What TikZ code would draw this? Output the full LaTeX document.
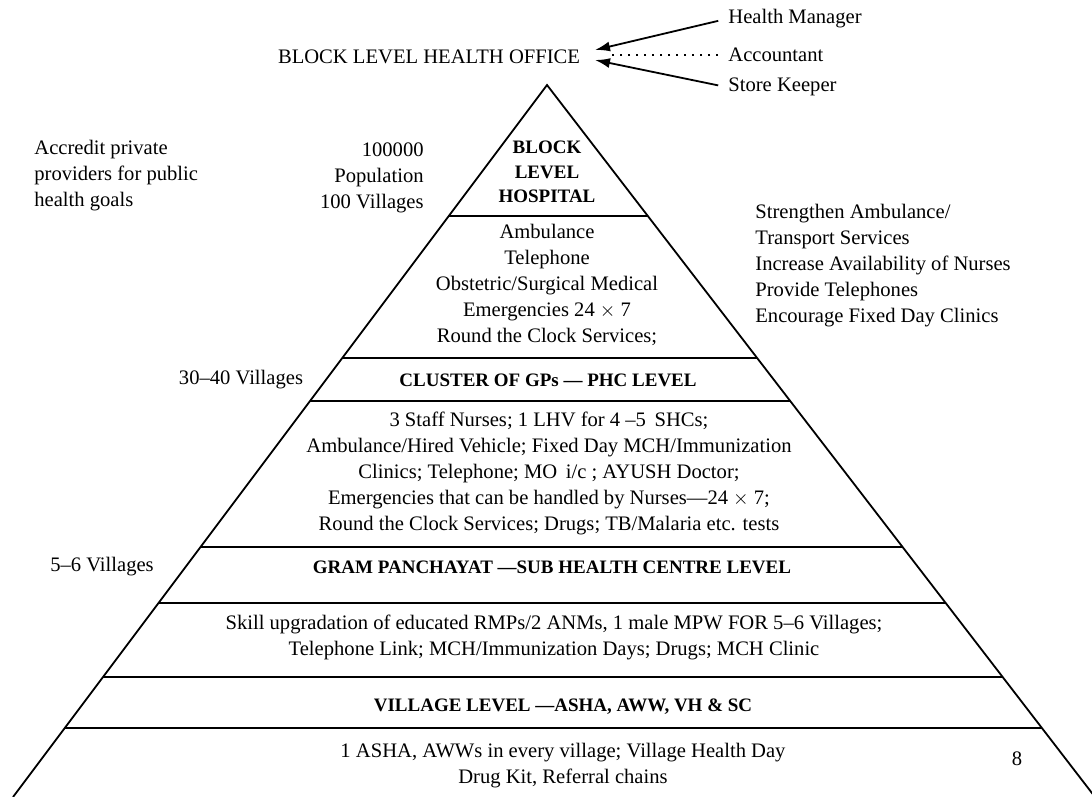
\documentclass[tikz,border=0pt]{standalone}
\usepackage{fontspec}
\setmainfont{Liberation Serif}
\usetikzlibrary{calc,arrows.meta}
\begin{document}
\begin{tikzpicture}[x=0.5pt,y=-0.5pt,inner sep=1pt,
  txt/.style={font=\fontsize{10.3}{13}\selectfont,align=center},
  lvl/.style={font=\fontsize{9.5}{12.25}\selectfont\bfseries,align=center},
  side/.style={line width=0.9pt},
  tier/.style={line width=1.4pt},
  feed/.style={line width=0.9pt,shorten <=4pt,-{Latex[length=7.5pt,width=5pt]}}]
  \useasboundingbox (0,0) rectangle (1092,797);
  % pyramid
  \coordinate (A) at (547,85);
  \coordinate (L) at (13,797);
  \coordinate (R) at (1095,797);
  \draw[side] (L) -- (A) -- (R);
  \foreach \y in {216,358,401,547,603,677,728}
    \draw[tier] ($(A)!{(\y-85)/712}!(L)$) -- ($(A)!{(\y-85)/712}!(R)$);

  % office and its staff
  \node[txt] (office) at (429,57) {BLOCK LEVEL HEALTH OFFICE};
  \node[txt,anchor=west] (hm) at (726,19) {Health Manager};
  \node[txt,anchor=west] (acc) at (726,55) {Accountant};
  \node[txt,anchor=west] (sk) at (726,87) {Store Keeper};
  \coordinate (tipA) at (595,50);
  \coordinate (tipB) at (595,60);
  \coordinate (dotend) at (611,55);
  \draw[feed] (hm.west) -- (tipA);
  \draw[feed] (sk.west) -- (tipB);
  \draw[line width=0.9pt,dash pattern=on 0.8pt off 3.2pt,shorten <=4pt] (acc.west) -- (dotend);

  % side notes
  \node[txt,align=left,anchor=west] (accr) at (32,176)
    {Accredit private\\providers for public\\health goals};
  \node[txt,align=right,anchor=east] (pop) at (426,178)
    {100000\\Population\\100 Villages};
  \node[txt,align=left,anchor=west] (plan) at (753,266)
    {Strengthen Ambulance/\\Transport Services\\Increase Availability of Nurses\\Provide Telephones\\Encourage Fixed Day Clinics};
  \node[txt] (gp) at (241,380) {30--40 Villages};
  \node[txt] (sc) at (102,567) {5--6 Villages};
  \node[txt] (page) at (1017,759) {8};

  % tiers
  \node[lvl] (bh) at (547,172) {BLOCK\\LEVEL\\HOSPITAL};
  \node[txt] (bhs) at (547,285)
    {Ambulance\\Telephone\\Obstetric/Surgical Medical\\Emergencies 24 $\times$ 7\\Round the Clock Services;};
  \node[lvl] (phc) at (548,380) {CLUSTER OF GPs --- PHC LEVEL};
  \node[txt] (phcs) at (549,473)
    {3 Staff Nurses; 1 LHV for 4 --5 \,SHCs;\\
     Ambulance/Hired Vehicle; Fixed Day MCH/Immunization\\
     Clinics; Telephone; MO \,i/c ; AYUSH Doctor;\\
     Emergencies that can be handled by Nurses---24 $\times$ 7;\\
     Round the Clock Services; Drugs; TB/Malaria etc. tests};
  \node[lvl] (shc) at (552,567) {GRAM PANCHAYAT ---SUB HEALTH CENTRE LEVEL};
  \node[txt] (shcs) at (554,637)
    {Skill upgradation of educated RMPs/2 ANMs, 1 male MPW FOR 5--6 Villages;\\
     Telephone Link; MCH/Immunization Days; Drugs; MCH Clinic};
  \node[lvl] (vil) at (563,707) {VILLAGE LEVEL ---ASHA, AWW, VH \& SC};
  \node[txt] (vils) at (563,766)
    {1 ASHA, AWWs in every village; Village Health Day\\Drug Kit, Referral chains};
\end{tikzpicture}
\end{document}
